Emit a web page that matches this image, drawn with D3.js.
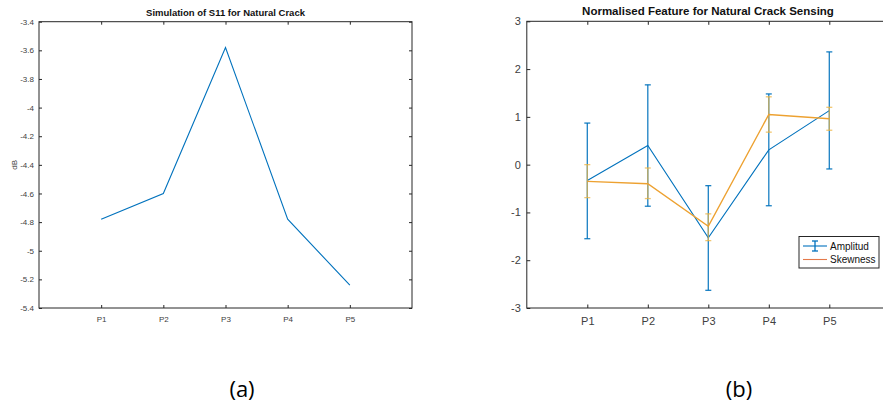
<!DOCTYPE html>
<html>
<head>
<meta charset="utf-8">
<script src="https://cdn.jsdelivr.net/npm/d3@7"></script>
<style>
  body { margin: 0; background: #fff; }
  svg { display: block; font-family: Arial, "Liberation Sans", sans-serif; }
</style>
</head>
<body>
<div id="chart"></div>
<script>
// data
const points = ["P1", "P2", "P3", "P4", "P5"];

const s11Values = [-4.78, -4.60, -3.58, -4.78, -5.24];
const s11Ticks = [-5.4, -5.2, -5, -4.8, -4.6, -4.4, -4.2, -4, -3.8, -3.6, -3.4];

const ampMean = [-0.33, 0.40, -1.53, 0.31, 1.13];
const ampLow  = [-1.55, -0.87, -2.63, -0.86, -0.09];
const ampHigh = [0.87, 1.67, -0.44, 1.48, 2.36];

const skewMean = [-0.35, -0.40, -1.29, 1.05, 0.96];
const skewLow  = [-0.69, -0.71, -1.59, 0.68, 0.72];
const skewHigh = [0.00, -0.07, -1.03, 1.42, 1.20];
const normTicks = [-3, -2, -1, 0, 1, 2, 3];

const width = 883;
const height = 407;
const blue = "#0072BD";
const orange = "#EDA130";
const yellow = "#EDB440";

const svg = d3.select("#chart").append("svg")
  .attr("width", width)
  .attr("height", height);

const idx = points.map((p, i) => i + 1);

// ---------- (a) S11 ----------
const xA = d3.scaleLinear().domain([0, 6]).range([39, 412]);
const yA = d3.scaleLinear().domain([-5.4, -3.4]).range([308, 21.7]);
const gA = svg.append("g");

function styleAxis(g, size) {
  g.select(".domain").remove();
  g.selectAll("line").attr("stroke", "#262626");
  g.selectAll("text").attr("fill", "#404040").style("font-size", size + "px");
}

gA.append("g").attr("transform", `translate(0,${yA(-5.4)})`)
  .call(d3.axisBottom(xA).tickValues(idx).tickFormat(i => points[i - 1]).tickSizeInner(-3).tickSizeOuter(0).tickPadding(8))
  .call(g => styleAxis(g, 8));
gA.append("g").attr("transform", `translate(0,${yA(-3.4)})`)
  .call(d3.axisTop(xA).tickValues(idx).tickFormat("").tickSizeInner(-3).tickSizeOuter(0))
  .call(g => styleAxis(g, 8));
gA.append("g").attr("transform", `translate(${xA(0)},0)`)
  .call(d3.axisLeft(yA).tickValues(s11Ticks).tickFormat(d => String(+d.toFixed(1))).tickSizeInner(-3).tickSizeOuter(0).tickPadding(5))
  .call(g => styleAxis(g, 8));
gA.append("g").attr("transform", `translate(${xA(6)},0)`)
  .call(d3.axisRight(yA).tickValues(s11Ticks).tickFormat("").tickSizeInner(-3).tickSizeOuter(0))
  .call(g => styleAxis(g, 8));

gA.append("rect")
  .attr("x", xA(0)).attr("y", yA(-3.4))
  .attr("width", xA(6) - xA(0)).attr("height", yA(-5.4) - yA(-3.4))
  .attr("fill", "none").attr("stroke", "#262626").attr("stroke-width", 1);

gA.append("path")
  .datum(s11Values)
  .attr("fill", "none")
  .attr("stroke", blue)
  .attr("stroke-width", 1.1)
  .attr("d", d3.line().x((d, i) => xA(i + 1)).y(d => yA(d)));

gA.append("text")
  .attr("x", (xA(0) + xA(6)) / 2).attr("y", 16)
  .attr("text-anchor", "middle")
  .style("font-size", "9.5px").style("font-weight", "bold").attr("fill", "#111")
  .text("Simulation of S11 for Natural Crack");

gA.append("text")
  .attr("transform", `translate(17,${(yA(-3.4) + yA(-5.4)) / 2}) rotate(-90)`)
  .attr("text-anchor", "middle")
  .style("font-size", "8px").attr("fill", "#404040")
  .text("dB");

// ---------- (b) normalised features ----------
const xB = d3.scaleLinear().domain([0, 6]).range([526.8, 889.8]);
const yB = d3.scaleLinear().domain([-3, 3]).range([308, 21.3]);
const gB = svg.append("g");

gB.append("g").attr("transform", `translate(0,${yB(-3)})`)
  .call(d3.axisBottom(xB).tickValues(idx).tickFormat(i => points[i - 1]).tickSizeInner(-3.5).tickSizeOuter(0).tickPadding(9))
  .call(g => styleAxis(g, 11));
gB.append("g").attr("transform", `translate(0,${yB(3)})`)
  .call(d3.axisTop(xB).tickValues(idx).tickFormat("").tickSizeInner(-3.5).tickSizeOuter(0))
  .call(g => styleAxis(g, 11));
gB.append("g").attr("transform", `translate(${xB(0)},0)`)
  .call(d3.axisLeft(yB).tickValues(normTicks).tickFormat(d => String(d)).tickSizeInner(-3.5).tickSizeOuter(0).tickPadding(6))
  .call(g => styleAxis(g, 11));

gB.append("rect")
  .attr("x", xB(0)).attr("y", yB(3))
  .attr("width", xB(6) - xB(0)).attr("height", yB(-3) - yB(3))
  .attr("fill", "none").attr("stroke", "#262626").attr("stroke-width", 1);

function errorBars(g, mean, low, high, color, opacity) {
  const bars = g.append("g").attr("stroke", color).attr("stroke-opacity", opacity).attr("stroke-width", 1.3);
  mean.forEach((m, i) => {
    const x = xB(i + 1);
    bars.append("line").attr("x1", x).attr("x2", x).attr("y1", yB(low[i])).attr("y2", yB(high[i]));
    bars.append("line").attr("x1", x - 3).attr("x2", x + 3).attr("y1", yB(low[i])).attr("y2", yB(low[i]));
    bars.append("line").attr("x1", x - 3).attr("x2", x + 3).attr("y1", yB(high[i])).attr("y2", yB(high[i]));
  });
}

const lineB = d3.line().x((d, i) => xB(i + 1)).y(d => yB(d));

errorBars(gB, ampMean, ampLow, ampHigh, blue, 0.9);
gB.append("path").datum(ampMean)
  .attr("fill", "none").attr("stroke", blue).attr("stroke-width", 1.1).attr("d", lineB);

errorBars(gB, skewMean, skewLow, skewHigh, yellow, 0.75);
gB.append("path").datum(skewMean)
  .attr("fill", "none").attr("stroke", orange).attr("stroke-width", 1.4).attr("d", lineB);

gB.append("text")
  .attr("x", 708).attr("y", 15)
  .attr("text-anchor", "middle")
  .style("font-size", "11.5px").style("font-weight", "bold").attr("fill", "#111")
  .text("Normalised Feature for Natural Crack Sensing");

// legend
const legend = gB.append("g").attr("transform", "translate(799,236.5)");
legend.append("rect")
  .attr("width", 80).attr("height", 31.5)
  .attr("fill", "#fff").attr("stroke", "#262626").attr("stroke-width", 1);
legend.append("line").attr("x1", 4).attr("x2", 28).attr("y1", 9.5).attr("y2", 9.5)
  .attr("stroke", blue).attr("stroke-width", 1.1);
legend.append("line").attr("x1", 16).attr("x2", 16).attr("y1", 4.5).attr("y2", 14.5)
  .attr("stroke", blue).attr("stroke-width", 1.3);
legend.append("line").attr("x1", 13).attr("x2", 19).attr("y1", 4.5).attr("y2", 4.5)
  .attr("stroke", blue).attr("stroke-width", 1.3);
legend.append("line").attr("x1", 13).attr("x2", 19).attr("y1", 14.5).attr("y2", 14.5)
  .attr("stroke", blue).attr("stroke-width", 1.3);
legend.append("line").attr("x1", 4).attr("x2", 28).attr("y1", 23).attr("y2", 23)
  .attr("stroke", "#E5794A").attr("stroke-width", 1.1);
legend.append("text").attr("x", 31).attr("y", 13)
  .style("font-size", "10px").attr("fill", "#111").text("Amplitud");
legend.append("text").attr("x", 31).attr("y", 26.5)
  .style("font-size", "10px").attr("fill", "#111").text("Skewness");

// captions
svg.append("text").attr("x", 242).attr("y", 397)
  .attr("text-anchor", "middle")
  .style("font-family", "'Open Sans', sans-serif").style("font-size", "22px").attr("fill", "#000")
  .text("(a)");
svg.append("text").attr("x", 739).attr("y", 397)
  .attr("text-anchor", "middle")
  .style("font-family", "'Open Sans', sans-serif").style("font-size", "22px").attr("fill", "#000")
  .text("(b)");
</script>
</body>
</html>
